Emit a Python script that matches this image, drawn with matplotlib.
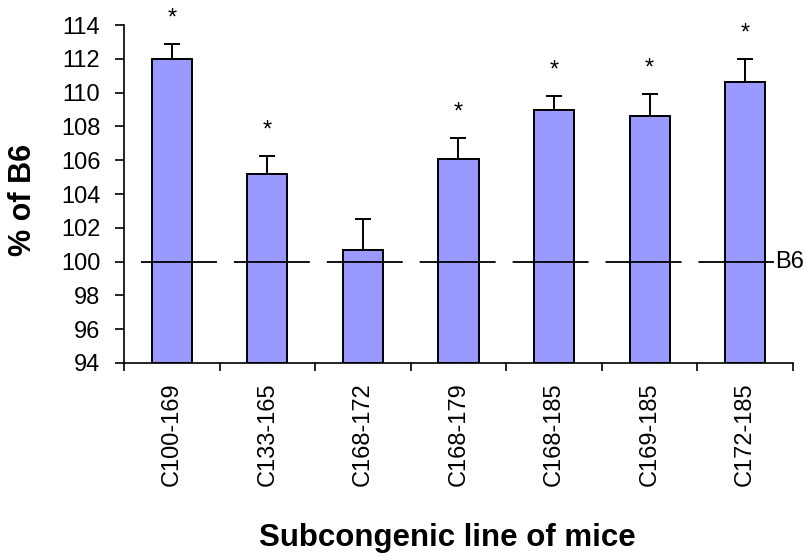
from matplotlib import pyplot as plt
from matplotlib import transforms
import numpy as np

# values
lines = ["C100-169", "C133-165", "C168-172", "C168-179", "C168-185", "C169-185", "C172-185"]
pct_b6 = [112.0, 105.2, 100.7, 106.1, 109.0, 108.6, 110.6]
sem = [0.9, 1.05, 1.85, 1.2, 0.8, 1.3, 1.4]
signif = [True, True, False, True, True, True, True]
b6_level = 100
yticks = [94, 96, 98, 100, 102, 104, 106, 108, 110, 112, 114]

plt.rcParams['font.family'] = ['Liberation Sans', 'DejaVu Sans']

fig = plt.figure(figsize=(8.06, 5.57), dpi=100)
ax = fig.add_axes([0.1538, 0.3483, 0.8301, 0.6068])

x = np.arange(len(lines))
ax.bar(x, np.array(pct_b6) - 94, bottom=94, width=0.42, color='#9999FF',
       edgecolor='black', linewidth=1.4, zorder=2)
ax.errorbar(x, pct_b6, yerr=[np.zeros(len(sem)), sem], fmt='none', ecolor='black',
            elinewidth=1.4, capsize=6, capthick=1.4, zorder=3)

# significance stars above the error bars
for xi, v, e, s in zip(x, pct_b6, sem, signif):
    if s:
        ax.text(xi, v + e + 1.15, '*', ha='center', va='baseline', fontsize=17, clip_on=False)

# B6 reference line
lw = 1.3
trans = transforms.blended_transform_factory(ax.transAxes, ax.transData)
ax.plot([0, 0.972], [b6_level, b6_level], transform=trans, color='black', lw=lw,
        linestyle=(54.7 / lw, (54.7 / lw, 12.2 / lw)), zorder=4, clip_on=False)
ax.text(0.973, b6_level, 'B6', transform=trans, ha='left', va='center',
        fontsize=17, clip_on=False)

ax.set_xlim(-0.5, len(lines) - 0.5)
ax.set_ylim(94, 114)
ax.set_yticks(yticks)
ax.set_yticklabels([str(t) for t in yticks])
ax.set_xticks(np.arange(len(lines) + 1) - 0.5)
ax.set_xticklabels([])
ax.set_xticks(x, minor=True)
ax.set_xticklabels(lines, minor=True, rotation=90, va='top', ha='center')

ax.tick_params(axis='y', length=6.5, width=1.2, pad=10.5, labelsize=17)
ax.tick_params(axis='x', which='major', length=6, width=1.2)
ax.tick_params(axis='x', which='minor', length=0, pad=14, labelsize=17)

for side in ['top', 'right']:
    ax.spines[side].set_visible(False)
for side in ['left', 'bottom']:
    ax.spines[side].set_linewidth(1.2)

ax.set_ylabel('% of B6', fontsize=22, fontweight='bold', va='center')
ax.yaxis.set_label_coords(-0.151, 0.483)
ax.set_xlabel('Subcongenic line of mice', fontsize=22.5, fontweight='bold')
ax.xaxis.set_label_coords(0.483, -0.473)

fig.savefig('out.png', dpi=100)
